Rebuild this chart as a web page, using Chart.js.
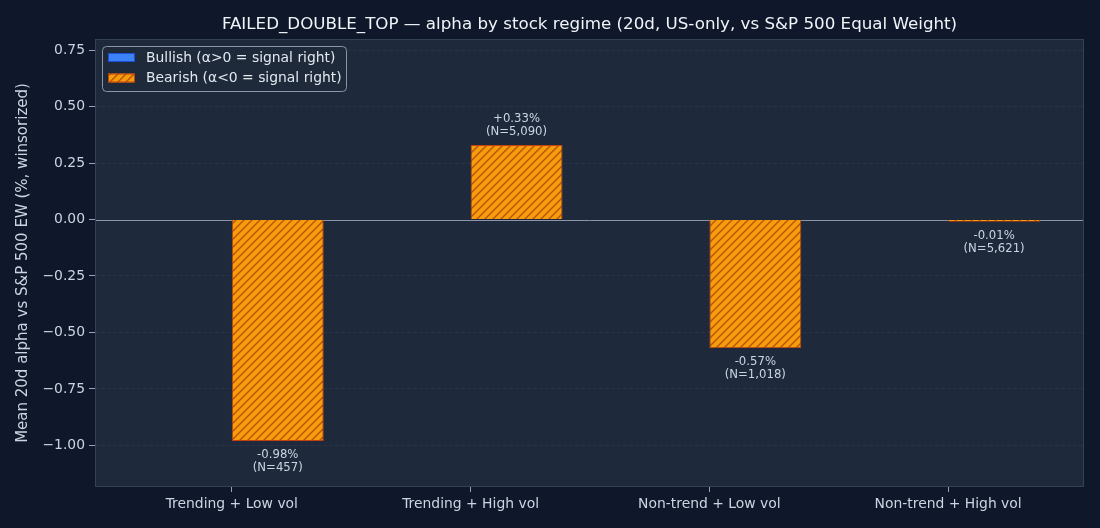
<!DOCTYPE html>
<html>
<head>
<meta charset="utf-8">
<script src="https://cdn.jsdelivr.net/npm/chart.js@4.4.1/dist/chart.umd.min.js"></script>
<style>
  html, body { margin: 0; padding: 0; background: #0f172a; }
  #wrap { width: 1100px; height: 528px; }
</style>
</head>
<body>
<div id="wrap"><canvas id="chart"></canvas></div>
<script>
"use strict";

// data
var categories = ["Trending + Low vol", "Trending + High vol", "Non-trend + Low vol", "Non-trend + High vol"];
var bullishVals = [null, null, null, null];
var bearishVals = [-0.98, 0.33, -0.57, -0.01];
var counts = [457, 5090, 1018, 5621];
var yTicks = [-1.0, -0.75, -0.5, -0.25, 0.0, 0.25, 0.5, 0.75];

var FONT = "'DejaVu Sans', sans-serif";

// hatch pattern for the bearish bars
var makeHatch = function (bg, line) {
  var s = 8;
  var c = document.createElement("canvas");
  c.width = s; c.height = s;
  var g = c.getContext("2d");
  g.fillStyle = bg;
  g.fillRect(0, 0, s, s);
  g.strokeStyle = line;
  g.lineWidth = 1.5;
  g.beginPath();
  g.moveTo(0, s); g.lineTo(s, 0);
  g.moveTo(-1, 1); g.lineTo(1, -1);
  g.moveTo(s - 1, s + 1); g.lineTo(s + 1, s - 1);
  g.stroke();
  return g.createPattern(c, "repeat");
};
var hatch = makeHatch("#f59e0b", "#c2530c");

var fmtPct = function (v) {
  return (v >= 0 ? "+" : "") + v.toFixed(2) + "%";
};

// backgrounds, frame, zero line, labels, legend, title
var decor = {
  id: "decor",
  beforeDraw: function (chart) {
    var ctx = chart.ctx, a = chart.chartArea;
    ctx.save();
    ctx.fillStyle = "#0f172a";
    ctx.fillRect(0, 0, chart.width, chart.height);
    ctx.fillStyle = "#1e293b";
    ctx.fillRect(a.left, a.top, a.right - a.left, a.bottom - a.top);
    ctx.restore();
  },
  beforeDatasetsDraw: function (chart) {
    var ctx = chart.ctx, a = chart.chartArea;
    // zero line, under the bars
    var y0 = Math.round(chart.scales.y.getPixelForValue(0)) + 0.5;
    ctx.save();
    ctx.strokeStyle = "#8b95a7";
    ctx.lineWidth = 1;
    ctx.beginPath();
    ctx.moveTo(a.left, y0); ctx.lineTo(a.right, y0);
    ctx.stroke();
    ctx.restore();
  },
  afterDraw: function (chart) {
    var ctx = chart.ctx, a = chart.chartArea;
    ctx.save();

    // frame
    ctx.strokeStyle = "#334155";
    ctx.lineWidth = 1;
    ctx.strokeRect(a.left + 0.5, a.top + 0.5, a.right - a.left - 1, a.bottom - a.top - 1);

    // value labels
    var meta = chart.getDatasetMeta(1);
    ctx.font = "11.7px " + FONT;
    ctx.fillStyle = "#cbd5e1";
    ctx.textAlign = "center";
    ctx.textBaseline = "middle";
    meta.data.forEach(function (bar, i) {
      var v = bearishVals[i];
      var l1 = fmtPct(v), l2 = "(N=" + counts[i].toLocaleString("en-US") + ")";
      if (v >= 0) {
        ctx.fillText(l1, bar.x, bar.y - 26);
        ctx.fillText(l2, bar.x, bar.y - 13);
      } else {
        ctx.fillText(l1, bar.x, bar.y + 14);
        ctx.fillText(l2, bar.x, bar.y + 27);
      }
    });

    // legend
    var lx = a.left + 7, ly = a.top + 7, lw = 244, lh = 45;
    ctx.beginPath();
    ctx.roundRect(lx + 0.5, ly + 0.5, lw, lh, 4);
    ctx.fillStyle = "rgba(30,41,59,0.9)";
    ctx.fill();
    ctx.strokeStyle = "#8b95a7";
    ctx.stroke();
    ctx.font = "13.9px " + FONT;
    ctx.textAlign = "left";
    chart.data.datasets.forEach(function (ds, i) {
      var cy = ly + 11.5 + i * 20.5;
      ctx.fillStyle = ds.backgroundColor;
      ctx.fillRect(lx + 6, cy - 4.5, 27, 9);
      ctx.strokeStyle = ds.borderColor;
      ctx.strokeRect(lx + 6.5, cy - 4, 26, 8);
      ctx.fillStyle = "#e2e8f0";
      ctx.fillText(ds.label, lx + 44, cy + 0.5);
    });

    // title
    ctx.font = "16.7px " + FONT;
    ctx.fillStyle = "#f1f5f9";
    ctx.textAlign = "center";
    ctx.fillText("FAILED_DOUBLE_TOP \u2014 alpha by stock regime (20d, US-only, vs S&P 500 Equal Weight)", (a.left + a.right) / 2, 25);

    ctx.restore();
  }
};

var el = document.getElementById("chart");

new Chart(el, {
  type: "bar",
  data: {
    datasets: [
      {
        label: "Bullish (\u03b1>0 = signal right)",
        data: categories.map(function (c, i) { return { x: i, y: bullishVals[i] }; }),
        backgroundColor: "#3b82f6",
        borderColor: "#1d4ed8",
        borderWidth: 1
      },
      {
        label: "Bearish (\u03b1<0 = signal right)",
        data: categories.map(function (c, i) { return { x: i, y: bearishVals[i] }; }),
        backgroundColor: hatch,
        borderColor: "#c2410c",
        borderWidth: 1
      }
    ]
  },
  options: {
    responsive: true,
    maintainAspectRatio: false,
    animation: false,
    devicePixelRatio: 1,
    categoryPercentage: 0.77,
    barPercentage: 1.0,
    layout: { padding: { top: 39, right: 16, left: 0, bottom: 0 } },
    plugins: {
      legend: { display: false },
      title: { display: false },
      tooltip: { enabled: false }
    },
    scales: {
      x: {
        type: "linear",
        min: -0.573,
        max: 3.569,
        offset: false,
        afterBuildTicks: function (s) {
          s.ticks = categories.map(function (c, i) { return { value: i }; });
        },
        afterFit: function (s) { s.height = 41; },
        ticks: {
          autoSkip: false,
          maxRotation: 0,
          padding: 4,
          color: "#cbd5e1",
          font: { family: FONT, size: 13.9 },
          callback: function (v) { return categories[v]; }
        },
        grid: {
          offset: false,
          drawOnChartArea: false,
          drawTicks: true,
          tickLength: 5,
          tickColor: "#94a3b8"
        },
        border: { display: false }
      },
      y: {
        min: -1.184,
        max: 0.799,
        afterBuildTicks: function (s) {
          s.ticks = yTicks.map(function (v) { return { value: v }; });
        },
        afterFit: function (s) { s.width = 95; },
        ticks: {
          padding: 4,
          color: "#cbd5e1",
          font: { family: FONT, size: 13.9 },
          callback: function (v) { return v.toFixed(2).replace("-", "\u2212"); }
        },
        grid: {
          color: function (c) { return c.tick && c.tick.value === 0 ? "rgba(0,0,0,0)" : "rgba(148,163,184,0.09)"; },
          lineWidth: 1,
          z: 1,
          drawTicks: true,
          tickLength: 6,
          tickColor: "#94a3b8"
        },
        border: { display: false, dash: [4, 2] },
        title: {
          display: true,
          text: "Mean 20d alpha vs S&P 500 EW (%, winsorized)",
          color: "#cbd5e1",
          font: { family: FONT, size: 15 },
          padding: { top: 14, bottom: 0 }
        }
      }
    }
  },
  plugins: [decor]
});
</script>
</body>
</html>
